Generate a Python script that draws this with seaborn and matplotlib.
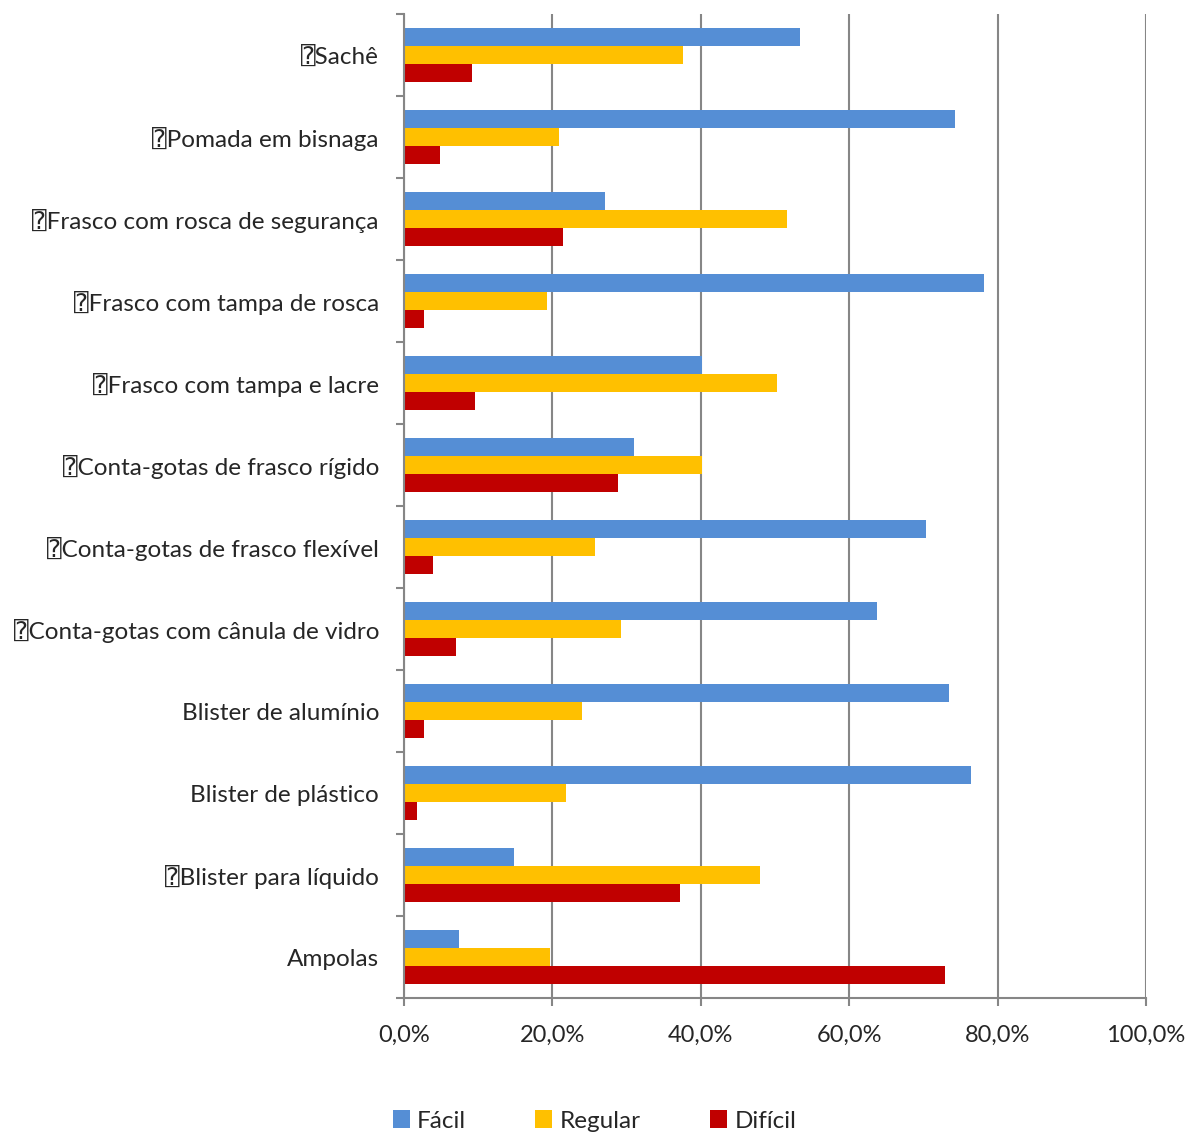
import matplotlib
matplotlib.use("Agg")
import matplotlib.pyplot as plt
from matplotlib.patches import Patch
import seaborn as sns
import pandas as pd

categories = [
    "\u2370Sachê",
    "\u2370Pomada em bisnaga",
    "\u2370Frasco com rosca de segurança",
    "\u2370Frasco com tampa de rosca",
    "\u2370Frasco com tampa e lacre",
    "\u2370Conta-gotas de frasco rígido",
    "\u2370Conta-gotas de frasco flexível",
    "\u2370Conta-gotas com cânula de vidro",
    "Blister de alumínio",
    "Blister de plástico",
    "\u2370Blister para líquido",
    "Ampolas",
]
facil = [53.4, 74.3, 27.1, 78.2, 40.2, 31.0, 70.4, 63.7, 73.4, 76.4, 14.8, 7.4]
regular = [37.6, 20.9, 51.6, 19.3, 50.3, 40.2, 25.7, 29.2, 24.0, 21.8, 48.0, 19.7]
dificil = [9.2, 4.9, 21.4, 2.7, 9.6, 28.8, 3.9, 7.0, 2.7, 1.8, 37.2, 72.9]
series_names = ["Fácil", "Regular", "Difícil"]
colors = ["#558ED5", "#FFC000", "#C00000"]
xticks = [0, 20, 40, 60, 80, 100]

rows = []
for name, vals in zip(series_names, [facil, regular, dificil]):
    for cat, v in zip(categories, vals):
        rows.append({"categoria": cat, "serie": name, "valor": v})
df = pd.DataFrame(rows)

sns.set_theme(style="white")
plt.rcParams["font.family"] = ["Lato", "DejaVu Sans", "DejaVu Sans Mono", "Noto Sans"]

fig = plt.figure(figsize=(11.89, 11.33), dpi=100)
ax = fig.add_axes([404 / 1189, 1 - 998 / 1133, (1146 - 404) / 1189, (998 - 14) / 1133])

sns.barplot(
    data=df, y="categoria", x="valor", hue="serie", order=categories,
    hue_order=series_names, palette=colors, orient="h", width=0.66,
    saturation=1, ax=ax, legend=False, edgecolor="none", linewidth=0,
)

grid_c = "#868686"
ax.set_xlim(0, 100)
ax.set_ylim(len(categories) - 0.5, -0.5)
ax.set_xticks(xticks)
ax.set_xticklabels([f"{t:.1f}%".replace(".", ",") for t in xticks], fontsize=17)
ax.xaxis.grid(True, color=grid_c, linewidth=1.5)
ax.set_axisbelow(True)
ax.set_xlabel("")
ax.set_ylabel("")

ax.set_yticks(range(len(categories)))
ax.set_yticklabels(categories, fontsize=17.5)
ax.set_yticks([i - 0.5 for i in range(len(categories) + 1)], minor=True)
ax.tick_params(axis="y", which="major", length=0, pad=18)
ax.tick_params(axis="y", which="minor", length=6, width=1.5, color=grid_c, direction="out", left=True)
ax.tick_params(axis="x", which="major", length=6, width=1.5, color=grid_c, direction="out", bottom=True, pad=13)

for side in ["top", "right"]:
    ax.spines[side].set_visible(False)
for side in ["left", "bottom"]:
    ax.spines[side].set_color(grid_c)
    ax.spines[side].set_linewidth(1.5)

handles = [Patch(facecolor=c, edgecolor="none") for c in colors]
fig.legend(
    handles, series_names, loc="center", bbox_to_anchor=(0.5, 1 - 1121 / 1133),
    ncol=3, frameon=False, fontsize=17.5, handlelength=0.7, handleheight=0.7,
    handletextpad=0.3, columnspacing=2.85,
)

fig.savefig("out.png", dpi=100)
